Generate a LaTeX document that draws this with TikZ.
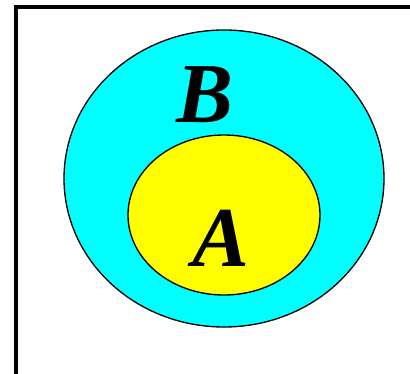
\documentclass[tikz,border=0pt]{standalone}
\usepackage{fontspec}
\setmainfont{Liberation Serif}
\definecolor{setcyan}{RGB}{0,255,255}
\definecolor{setyellow}{RGB}{255,255,0}
\begin{document}
\begin{tikzpicture}[x=0.75pt,y=-0.75pt,
  setline/.style={draw=black,line width=1pt},
  frameline/.style={draw=black,line width=2.6pt},
  lbl/.style={font=\fontsize{64}{64}\selectfont\bfseries\itshape,inner sep=0pt}]
\useasboundingbox (0,0) rectangle (410,374);
\fill[white] (0,0) rectangle (410,374);
\coordinate (tl) at (16,7);
\coordinate (tr) at (410,7);
\coordinate (bl) at (16,374);
\draw[frameline] (bl) -- (tl) -- (tr);
\path[setline,fill=setcyan] (224,178.5) ellipse [x radius=160, y radius=148.5];
\path[setline,fill=setyellow] (224,215) ellipse [x radius=96, y radius=80];
\node[lbl] (B) at (205,95) {B};
\node[lbl] (A) at (221,238) {A};
\end{tikzpicture}
\end{document}
